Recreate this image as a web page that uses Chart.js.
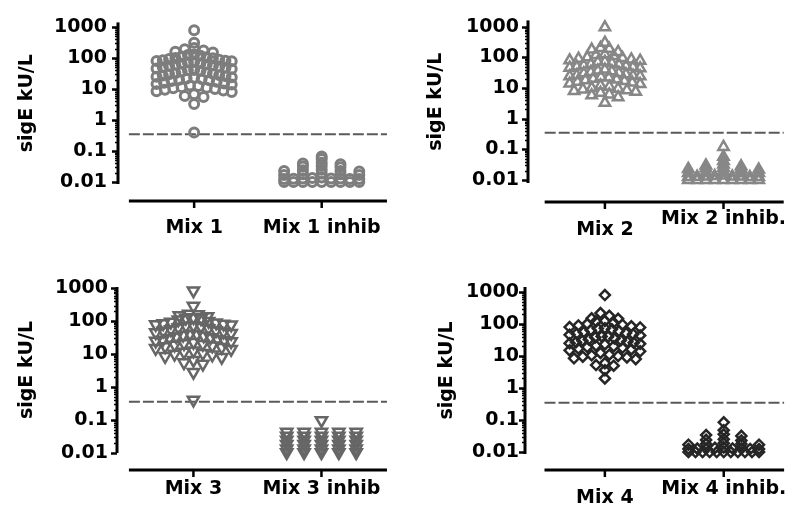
<!DOCTYPE html>
<html>
<head>
<meta charset="utf-8">
<script src="https://cdn.jsdelivr.net/npm/chart.js@4.4.1/dist/chart.umd.min.js"></script>
<style>
  body { margin: 0; background: #fff; }
  #wrap { position: relative; width: 808px; height: 511px; }
  canvas { position: absolute; }
</style>
</head>
<body>
<div id="wrap">
  <canvas id="c1" width="404" height="255" style="left:0;top:0"></canvas>
  <canvas id="c2" width="404" height="255" style="left:404px;top:0"></canvas>
  <canvas id="c3" width="404" height="255" style="left:0;top:255px"></canvas>
  <canvas id="c4" width="404" height="255" style="left:404px;top:255px"></canvas>
</div>
<script>
// ---- data (kU/L) ----
const categories1 = ["Mix 1", "Mix 1 inhib"];
const categories2 = ["Mix 2", "Mix 2 inhib."];
const categories3 = ["Mix 3", "Mix 3 inhib"];
const categories4 = ["Mix 4", "Mix 4 inhib."];

const mix1 = [780, 310, 210, 190, 175, 160, 150,
  130, 125, 118, 112, 105, 100, 98, 92, 88, 85, 82, 80, 78,
  74, 72, 68, 65, 62, 60, 57, 55, 52, 50, 48, 46, 44,
  41, 40, 38, 36, 34, 32, 31, 30, 28, 27, 26, 25, 24,
  23, 22, 21, 20, 19, 18, 17, 16, 15, 14.5, 14,
  13, 12.5, 11.5, 11, 10.5, 10, 9.5, 9, 8.5, 8,
  6.8, 6, 5.5, 3.3, 0.4];
const mix1Inhib = [0.067, 0.056,
  0.042, 0.04, 0.038, 0.033, 0.032, 0.03,
  0.025, 0.024, 0.023, 0.023, 0.022,
  0.019, 0.018, 0.018, 0.017, 0.017,
  0.014, 0.0135, 0.013, 0.013, 0.013, 0.0128, 0.0125, 0.0125, 0.0125,
  0.01, 0.01, 0.01, 0.01, 0.01, 0.01, 0.01, 0.01, 0.01];

const mix2 = [950, 300, 200, 190, 180, 150,
  125, 120, 110, 100, 95, 90, 85, 80, 78,
  72, 70, 65, 60, 58, 55, 52, 50, 48, 46, 44,
  40, 37, 35, 33, 31, 30, 28, 26, 25, 24, 24,
  23, 22, 20, 19, 18, 17, 16, 15, 14, 13.5,
  12, 11, 10, 9.5, 9, 8.5, 8, 7.6,
  7, 6.2, 5.8, 5, 3.3];
const mix2Inhib = [0.12, 0.057, 0.042,
  0.032, 0.03, 0.028,
  0.025, 0.024, 0.023, 0.023, 0.022,
  0.019, 0.018, 0.018, 0.017, 0.017,
  0.014, 0.0135, 0.013, 0.013, 0.013, 0.0128, 0.0125, 0.0125, 0.0125,
  0.01, 0.01, 0.01, 0.01, 0.01, 0.01, 0.01, 0.01, 0.01];

const mix3 = [850, 290, 165, 160, 150, 140,
  130, 125, 120, 110, 100, 95, 90, 85, 82, 80, 78,
  74, 72, 68, 64, 60, 56, 52, 50, 48, 45, 43,
  41, 40, 38, 36, 34, 32, 30, 28, 27, 26, 25, 24,
  23, 21, 20, 19, 18, 17, 16, 15, 14,
  12.5, 11.5, 10.5, 10, 9.5, 8.5, 8,
  6.5, 5.5, 5, 2.8, 0.4];
const mix3Inhib = [0.095,
  0.042, 0.042, 0.042, 0.042, 0.042,
  0.032, 0.032, 0.032, 0.032, 0.032,
  0.024, 0.024, 0.024, 0.024, 0.024,
  0.018, 0.018, 0.018, 0.018, 0.018,
  0.013, 0.013, 0.013, 0.013, 0.013,
  0.01, 0.01, 0.01, 0.01, 0.01];

const mix4 = [800, 220, 180, 150, 145,
  125, 120, 110, 100, 95, 90, 85, 80, 78,
  74, 72, 68, 64, 60, 56, 52, 50, 48, 46, 44,
  41, 40, 38, 35, 33, 31, 30, 28, 27, 26, 25, 24,
  23, 21, 20, 19, 18, 17, 16, 15, 14,
  12.5, 11, 10.5, 10, 9.5, 9, 8.5, 8,
  6, 5.2, 5, 3.6, 2.0];
const mix4Inhib = [0.085, 0.048,
  0.036, 0.034, 0.032,
  0.025, 0.024, 0.023,
  0.019, 0.018, 0.018, 0.017, 0.017,
  0.014, 0.0135, 0.013, 0.013, 0.013, 0.0128, 0.0125, 0.0125, 0.0125,
  0.01, 0.01, 0.01, 0.01, 0.01, 0.01, 0.01, 0.01, 0.01, 0.01, 0.01];

const yMajorTicks = [0.01, 0.1, 1, 10, 100, 1000];
const yTickLabels = ["0.01", "0.1", "1", "10", "100", "1000"];
const cutoff = 0.35;

// ---- drawing ----
const FONT = "'DejaVu Sans', sans-serif";
const H = 255;
const MAX_HALF = 38;    // px
const LABEL_PAD = 20;

// minor ticks 2..9 inside every decade
const yTicks = [];
yMajorTicks.forEach((d, i) => {
  yTicks.push(d);
  if (i < yMajorTicks.length - 1) for (let m = 2; m <= 9; m++) yTicks.push(+(m * d).toPrecision(6));
});

// prism-like column scatter: bin values into rows and spread each row
function swarm(values, center, bin, stepPx, unitPx) {
  const rows = {};
  values.forEach(v => {
    const k = Math.round(Math.log10(v) / bin);
    (rows[k] = rows[k] || []).push(v);
  });
  const pts = [];
  Object.values(rows).forEach(row => {
    row.sort((a, b) => b - a);
    const n = row.length;
    let step = stepPx;
    if (n > 1 && (n - 1) * step > 2 * MAX_HALF) step = 2 * MAX_HALF / (n - 1);
    row.forEach((v, i) => {
      let slot;
      if (n % 2) slot = i === 0 ? 0 : Math.ceil(i / 2) * (i % 2 ? -1 : 1);
      else slot = (Math.floor(i / 2) + 0.5) * (i % 2 ? 1 : -1);
      pts.push({x: center + slot * step / unitPx, y: v});
    });
  });
  return pts;
}

const axisPlugin = {
  id: "prismAxes",
  afterDraw(chart, args, opts) {
    const {ctx, chartArea: a, scales: {x, y}} = chart;
    ctx.save();
    ctx.strokeStyle = "#000";
    ctx.lineWidth = 3;
    ctx.beginPath();
    ctx.moveTo(a.left, a.top);
    ctx.lineTo(a.left, a.bottom);
    ctx.stroke();
    y.ticks.forEach(t => {
      const major = yMajorTicks.indexOf(t.value) >= 0;
      const py = Math.round(y.getPixelForValue(t.value)) + 0.5;
      ctx.lineWidth = major ? 2.5 : 1.5;
      ctx.beginPath();
      ctx.moveTo(a.left, py);
      ctx.lineTo(a.left - (major ? 6 : 3), py);
      ctx.stroke();
    });
    const ly = a.bottom + opts.gap;
    ctx.lineWidth = 3;
    ctx.beginPath();
    ctx.moveTo(x.getPixelForValue(opts.start), ly);
    ctx.lineTo(a.right, ly);
    ctx.stroke();
    ctx.lineWidth = 2.5;
    x.ticks.forEach(t => {
      const px = x.getPixelForValue(t.value);
      ctx.beginPath();
      ctx.moveTo(px, ly);
      ctx.lineTo(px, ly + 7);
      ctx.stroke();
    });
    ctx.restore();
  }
};

const panels = [
  {id: "c1", cats: categories1, groups: [mix1, mix1Inhib], shape: "circle", rot: 0, r: 4.5, bw: 3, color: "#7d7d7d",
   axisX: 118, top: 15, bottom: 184, ymax: 1400, ymin: 0.0087, cat0: 195, cat1: 324, lineStart: 129, right: 390,
   gap: 17, labelY: [228, 228], titleX: 27, tickPad: 11, bins: [0.25, 0.125], steps: [9.5, 19]},
  {id: "c2", cats: categories2, groups: [mix2, mix2Inhib], shape: "triangle", rot: 0, r: 6, bw: 2.5, color: "#878787",
   axisX: 124, top: 15, bottom: 183, ymax: 1600, ymin: 0.008, cat0: 207, cat1: 335, lineStart: 142, right: 400,
   gap: 19, labelY: [230, 219], titleX: 32, tickPad: 9, bins: [0.25, 0.125], steps: [9.5, 19]},
  {id: "c3", cats: categories3, groups: [mix3, mix3Inhib], shape: "triangle", rot: 180, r: 6.5, bw: 2.5, color: "#666666",
   axisX: 117, top: 32, bottom: 198, ymax: 1100, ymin: 0.0097, cat0: 194, cat1: 323, lineStart: 129, right: 389,
   gap: 17, labelY: [234, 234], titleX: 27, tickPad: 9, bins: [0.25, 0.125], steps: [9.5, 17.5]},
  {id: "c4", cats: categories4, groups: [mix4, mix4Inhib], shape: "rectRot", rot: 0, r: 5, bw: 2.5, color: "#262626",
   axisX: 121, top: 32, bottom: 199, ymax: 1430, ymin: 0.0087, cat0: 207, cat1: 335, lineStart: 142, right: 400,
   gap: 16, labelY: [243, 234], titleX: 43, tickPad: 6, bins: [0.25, 0.125], steps: [9.5, 19]}
];

panels.forEach(p => {
  const unit = p.cat1 - p.cat0;
  const xMin = (p.axisX - p.cat0) / unit;
  const xMax = 1 + (p.right - p.cat1) / unit;
  const start = (p.lineStart - p.cat0) / unit;

  const datasets = p.groups.map((vals, gi) => ({
    type: "scatter",
    data: swarm(vals, gi, p.bins[gi], p.steps[gi], unit),
    showLine: false,
    pointStyle: p.shape,
    pointRotation: p.rot,
    pointRadius: p.r,
    pointBorderWidth: p.bw,
    pointBorderColor: p.color,
    pointBackgroundColor: "rgba(255,255,255,0)",
    clip: false
  }));
  datasets.push({
    type: "line",
    data: [{x: start, y: cutoff}, {x: xMax, y: cutoff}],
    borderColor: "#5a5a5a",
    borderWidth: 2,
    borderDash: [11, 3],
    pointRadius: 0,
    clip: false
  });

  new Chart(document.getElementById(p.id), {
    type: "scatter",
    data: {datasets},
    plugins: [axisPlugin],
    options: {
      responsive: false,
      animation: false,
      events: [],
      layout: {padding: {left: 0, top: p.top, right: 404 - p.right, bottom: 0}},
      plugins: {
        legend: {display: false},
        tooltip: {enabled: false},
        prismAxes: {gap: p.gap, start}
      },
      scales: {
        x: {
          type: "linear", position: "bottom", min: xMin, max: xMax, bounds: "data",
          grid: {display: false, drawTicks: false},
          border: {display: false},
          afterBuildTicks: s => { s.ticks = p.cats.map((c, i) => ({value: i})); },
          afterFit: s => { s.height = H - p.bottom; },
          ticks: {
            autoSkip: false, maxRotation: 0, padding: LABEL_PAD, color: "#000",
            callback: (v, i) => p.cats[i],
            font: c => {
              const i = c.index || 0;
              return {family: FONT, size: 19, weight: "bold",
                      lineHeight: 2 * (p.labelY[i] - p.bottom - LABEL_PAD) / 19};
            }
          }
        },
        y: {
          type: "logarithmic", min: p.ymin, max: p.ymax, bounds: "data",
          grid: {display: false, drawTicks: false},
          border: {display: false},
          afterBuildTicks: s => { s.ticks = yTicks.map(v => ({value: v})); },
          afterFit: s => { s.width = p.axisX; },
          ticks: {
            autoSkip: false, padding: p.tickPad, color: "#000",
            font: {family: FONT, size: 19, weight: "bold"},
            callback: v => {
              const i = yMajorTicks.indexOf(v);
              return i >= 0 ? yTickLabels[i] : "";
            }
          },
          title: {
            display: true, text: "sigE kU/L", color: "#000",
            font: {family: FONT, size: 19, weight: "bold"},
            padding: {top: p.titleX - 11.4, bottom: 0}
          }
        }
      }
    }
  });
});
</script>
</body>
</html>
